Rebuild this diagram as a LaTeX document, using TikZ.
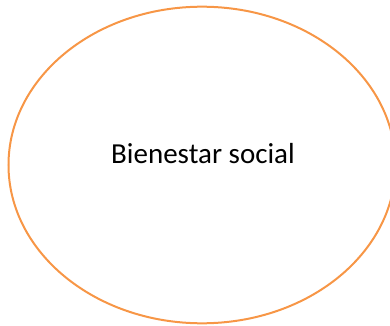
\documentclass[tikz,border=0pt]{standalone}
\usepackage{fontspec}
\setmainfont{Carlito}
\usepackage{tikz}
\usetikzlibrary{calc}
\definecolor{naranja}{HTML}{F79646}

\begin{document}
\begin{tikzpicture}[x=1bp,y=1bp]
            \useasboundingbox (0,0) rectangle (390,326);
            \coordinate (C) at (202,161);
            \draw[naranja, line width=2bp] (C) ellipse [x radius=193.5, y radius=158.3];
            \node[anchor=base, inner sep=0pt] (bienestar) at (203,163) {\fontsize{29bp}{35bp}\selectfont Bienestar social};
        \end{tikzpicture}
\end{document}
